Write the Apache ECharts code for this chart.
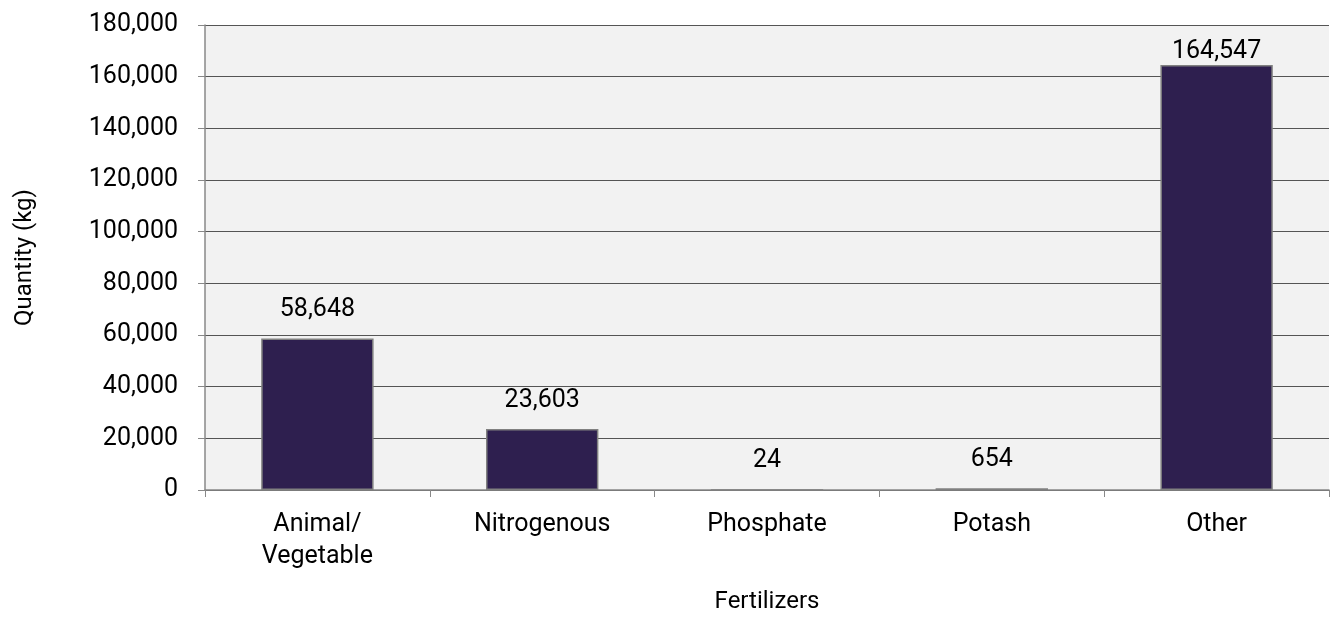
<!DOCTYPE html>
<html>
<head>
<meta charset="utf-8">
<script src="https://cdn.jsdelivr.net/npm/echarts@6/dist/echarts.min.js"></script>
<style>
  html, body { margin: 0; padding: 0; background: #fff; }
  #chart { width: 1330px; height: 639px; }
</style>
</head>
<body>
<div id="chart"></div>
<script>
  const categories = ['Animal/\nVegetable', 'Nitrogenous', 'Phosphate', 'Potash', 'Other'];
  const quantities = [58648, 23603, 24, 654, 164547];

  const myChart = echarts.init(document.getElementById('chart'));
  // label of the tallest bar is squeezed under the top of the plot, like the original
  const barData = quantities.map((v) => ({
    value: v,
    label: { distance: v > 160000 ? 1 : 16 }
  }));
  const option = {
    textStyle: { fontFamily: 'Roboto' },
    grid: { left: 205, right: 1, top: 25, bottom: 149 },
    xAxis: {
      type: 'category',
      data: categories,
      name: 'Fertilizers',
      nameLocation: 'middle',
      nameGap: 100,
      nameTextStyle: { fontSize: 24, color: '#000' },
      axisLine: { lineStyle: { color: '#888', width: 1.5 } },
      axisTick: { show: true, length: 7, alignWithLabel: false, lineStyle: { color: '#888' } },
      axisLabel: { fontSize: 25, color: '#000', margin: 19, lineHeight: 32 }
    },
    yAxis: {
      type: 'value',
      min: 0,
      max: 180000,
      interval: 20000,
      name: 'Quantity (kg)',
      nameLocation: 'middle',
      nameGap: 168,
      nameTextStyle: { fontSize: 24, color: '#000' },
      axisLine: { show: true, lineStyle: { color: '#888', width: 1.5 } },
      axisTick: { show: true, length: 7, lineStyle: { color: '#888' } },
      axisLabel: {
        fontSize: 25, color: '#000', margin: 27,
        formatter: (v) => v.toLocaleString('en-US')
      },
      splitLine: { lineStyle: { color: '#555', width: 1 } },
      splitArea: { show: true, areaStyle: { color: ['#f2f2f2', '#f2f2f2'] } }
    },
    series: [{
      type: 'bar',
      data: barData,
      barWidth: '50%',
      itemStyle: { color: '#2e1f4f', borderColor: '#808080', borderWidth: 1.5 },
      label: {
        show: true,
        position: 'top',
        distance: 16,
        fontSize: 25,
        color: '#000',
        formatter: (p) => p.value.toLocaleString('en-US')
      }
    }]
  };
  myChart.setOption(option);
</script>
</body>
</html>
